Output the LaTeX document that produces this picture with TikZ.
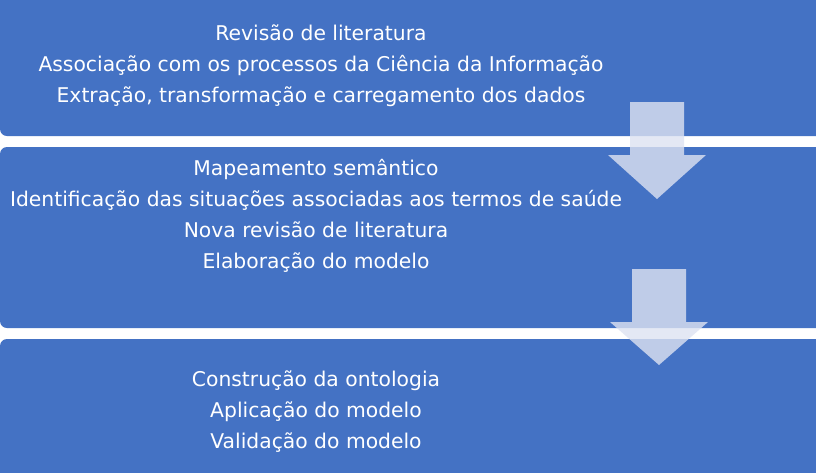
\documentclass[tikz,border=0pt]{standalone}
\usepackage{fontspec}
\setmainfont{DejaVu Sans}
\definecolor{boxblue}{HTML}{4472C4}
\definecolor{arrowfill}{RGB}{222,227,242}
\tikzset{
  stagebox/.style={fill=boxblue, draw=none, rounded corners=7pt},
  stagetext/.style={text=white, align=center, inner sep=0pt, font=\fontsize{20.3}{31.2}\selectfont},
  flowarrow/.style={fill=arrowfill, fill opacity=0.8, draw=none}
}
\begin{document}
\begin{tikzpicture}[x=1pt,y=-1pt]
\useasboundingbox (0,0) rectangle (816,472);
\fill[white] (0,0) rectangle (816,472);
% boxes
\path[stagebox] (0,-20) rectangle (840,136);
\path[stagebox] (0,147) rectangle (840,328);
\path[stagebox] (0,339) rectangle (840,490);
% texts
\node[stagetext] (t1) at (321,66) {Revisão de literatura\\Associação com os processos da Ciência da Informação\\Extração, transformação e carregamento dos dados};
\node[stagetext] (t2) at (316,216) {Mapeamento semântico\\Identificação das situações associadas aos termos de saúde\\Nova revisão de literatura\\Elaboração do modelo};
\node[stagetext] (t3) at (316,411.5) {Construção da ontologia\\Aplicação do modelo\\Validação do modelo};
% arrows
\path[flowarrow] (630,102) -- (684,102) -- (684,155) -- (706,155) -- (657,199) -- (608,155) -- (630,155) -- cycle;
\path[flowarrow] (632,269) -- (686,269) -- (686,322) -- (708,322) -- (659,365) -- (610,322) -- (632,322) -- cycle;
\end{tikzpicture}
\end{document}
